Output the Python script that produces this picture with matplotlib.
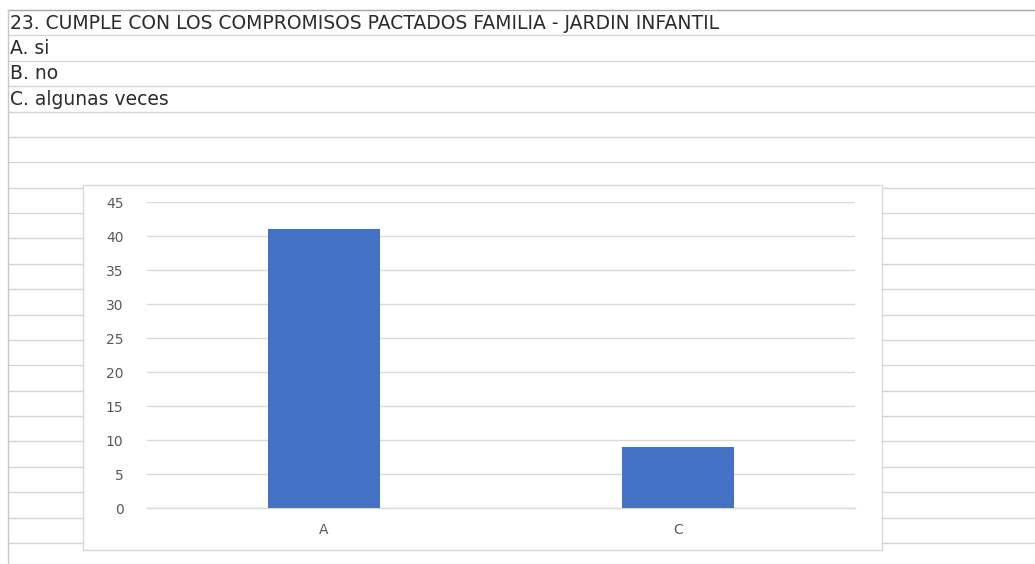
import matplotlib
matplotlib.use("Agg")
import matplotlib.pyplot as plt
from matplotlib.patches import Rectangle
import numpy as np

# ---- data ----
sheet_rows = [
    "23. CUMPLE CON LOS COMPROMISOS PACTADOS FAMILIA - JARDIN INFANTIL",
    "A. si",
    "B. no",
    "C. algunas veces",
]
categories = ["A", "C"]
values = [41, 9]
y_ticks = [0, 5, 10, 15, 20, 25, 30, 35, 40, 45]

W, H = 1035, 564
fig = plt.figure(figsize=(W / 100, H / 100), dpi=100)
fig.patch.set_facecolor("white")

# background "spreadsheet" axes in pixel coordinates
bg = fig.add_axes([0, 0, 1, 1])
bg.set_xlim(0, W)
bg.set_ylim(H, 0)
bg.axis("off")

row_top = 10
row_h = 25.38
n_lines = 22
for k in range(n_lines):
    y = row_top + k * row_h
    col = "#a6a6a6" if k == 0 else "#d4d4d4"
    bg.plot([8, W], [y, y], color=col, lw=1.0, zorder=1)
bg.plot([8, 8], [row_top, H], color="#c8c8c8", lw=1.0, zorder=1)

for i, txt in enumerate(sheet_rows):
    y = row_top + (i + 0.5) * row_h + 0.5
    bg.text(10, y, txt, fontsize=13.5, family=["DejaVu Sans"],
            color="#2b2b2b", va="center", ha="left", zorder=3)

# chart box
bg.add_patch(Rectangle((83, 185), 799, 365, facecolor="white",
                       edgecolor="#d9d9d9", lw=1.0, zorder=2))

# plot area
left, right, top, bottom = 147, 855, 202, 508
ax = fig.add_axes([left / W, (H - bottom) / H, (right - left) / W, (bottom - top) / H])
ax.set_zorder(5)
ax.patch.set_alpha(0)
x = np.arange(len(categories))
ax.bar(x, values, width=0.316, color="#4472C4", zorder=3)
ax.set_xlim(-0.5, len(categories) - 0.5)
ax.set_ylim(0, 45)
ax.set_yticks(y_ticks)
ax.set_xticks(x)
ax.set_xticklabels(categories)
ax.yaxis.grid(True, color="#d9d9d9", lw=1.0)
ax.set_axisbelow(True)
for s in ax.spines.values():
    s.set_visible(False)
ax.spines["bottom"].set_visible(True)
ax.spines["bottom"].set_color("#d9d9d9")
ax.spines["bottom"].set_linewidth(1.0)
ax.tick_params(axis="y", length=0, pad=17, labelsize=10, labelcolor="#595959")
ax.tick_params(axis="x", length=0, pad=11, labelsize=10, labelcolor="#595959")
for lab in ax.get_xticklabels() + ax.get_yticklabels():
    lab.set_family(["DejaVu Sans"])

fig.savefig("out.png", dpi=100)
